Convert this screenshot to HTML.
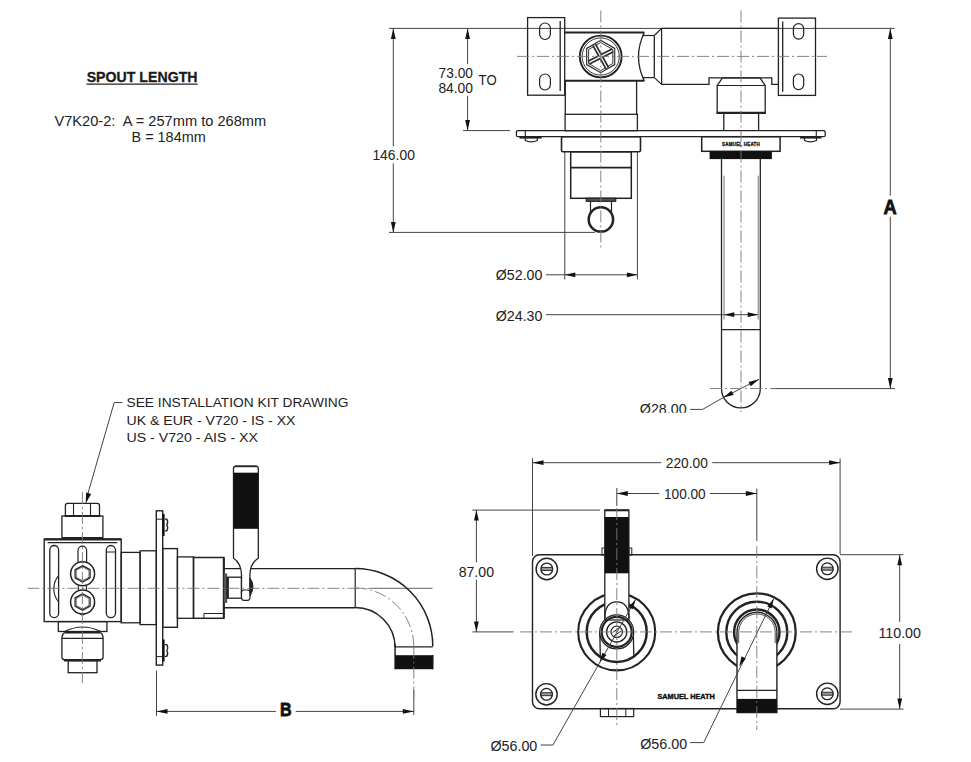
<!DOCTYPE html>
<html><head><meta charset="utf-8"><style>
html,body{margin:0;padding:0;background:#fff;}
svg{display:block;font-family:"Liberation Sans",sans-serif;}
</style></head><body>
<svg width="971" height="762" viewBox="0 0 971 762">
<rect width="971" height="762" fill="#fff"/>
<text x="86.7" y="81.6" font-size="14.4" text-anchor="start" font-weight="bold" textLength="110.8" lengthAdjust="spacingAndGlyphs" fill="#1a1a1a" stroke="#1a1a1a" stroke-width="0.3">SPOUT LENGTH</text>
<line x1="86.5" y1="84.2" x2="197.7" y2="84.2" stroke="#222" stroke-width="1.2" />
<text x="54.4" y="126.2" font-size="14.6" text-anchor="start" textLength="211.8" lengthAdjust="spacingAndGlyphs" fill="#222" >V7K20-2:&#160; A = 257mm to 268mm</text>
<text x="131.5" y="142.3" font-size="14.6" text-anchor="start" textLength="74.2" lengthAdjust="spacingAndGlyphs" fill="#222" >B = 184mm</text>
<line x1="389" y1="28.4" x2="894.6" y2="28.4" stroke="#444" stroke-width="1" />
<line x1="389" y1="232.4" x2="595" y2="232.4" stroke="#444" stroke-width="1" />
<line x1="772" y1="388.6" x2="894.9" y2="388.6" stroke="#444" stroke-width="1" />
<line x1="393.3" y1="28.4" x2="393.3" y2="146.4" stroke="#444" stroke-width="1" />
<line x1="393.3" y1="163.3" x2="393.3" y2="232.4" stroke="#444" stroke-width="1" />
<path d="M393.3,28.4 L395.7,38.9 L390.9,38.9 Z" fill="#111"/>
<path d="M393.3,232.4 L390.9,221.9 L395.7,221.9 Z" fill="#111"/>
<text x="372.4" y="160.3" font-size="15.2" text-anchor="start" textLength="42.5" lengthAdjust="spacingAndGlyphs" fill="#222" >146.00</text>
<line x1="467.6" y1="28.4" x2="467.6" y2="64" stroke="#444" stroke-width="1" />
<line x1="467.6" y1="95.8" x2="467.6" y2="130.6" stroke="#444" stroke-width="1" />
<path d="M467.6,28.4 L470,38.9 L465.2,38.9 Z" fill="#111"/>
<path d="M467.6,130.6 L465.2,120.1 L470,120.1 Z" fill="#111"/>
<line x1="463" y1="130.6" x2="510" y2="130.6" stroke="#444" stroke-width="1" />
<text x="438.6" y="78.1" font-size="15" text-anchor="start" textLength="34.4" lengthAdjust="spacingAndGlyphs" fill="#222" >73.00</text>
<text x="438.4" y="92.5" font-size="15" text-anchor="start" textLength="34.6" lengthAdjust="spacingAndGlyphs" fill="#222" >84.00</text>
<text x="478.6" y="84.5" font-size="14.5" text-anchor="start" textLength="18" lengthAdjust="spacingAndGlyphs" fill="#222" >TO</text>
<line x1="890.3" y1="28.4" x2="890.3" y2="195.7" stroke="#444" stroke-width="1" />
<line x1="890.3" y1="216.7" x2="890.3" y2="388.6" stroke="#444" stroke-width="1" />
<path d="M890.3,28.6 L892.7,39.1 L887.9,39.1 Z" fill="#111"/>
<path d="M890.3,388.6 L887.9,378.1 L892.7,378.1 Z" fill="#111"/>
<text x="883.5" y="213.6" font-size="20" text-anchor="start" font-weight="bold" textLength="13.2" lengthAdjust="spacingAndGlyphs" fill="#111" stroke="#111" stroke-width="0.8">A</text>
<line x1="564.8" y1="151.8" x2="564.8" y2="279.4" stroke="#444" stroke-width="1" />
<line x1="637.4" y1="151.8" x2="637.4" y2="279.4" stroke="#444" stroke-width="1" />
<line x1="546" y1="274.8" x2="637.4" y2="274.8" stroke="#444" stroke-width="1" />
<path d="M564.8,274.8 L575.3,272.4 L575.3,277.2 Z" fill="#111"/>
<path d="M637.4,274.8 L626.9,277.2 L626.9,272.4 Z" fill="#111"/>
<text x="495.8" y="280.2" font-size="14.2" text-anchor="start" textLength="46.6" lengthAdjust="spacingAndGlyphs" fill="#222" >&#216;52.00</text>
<line x1="546" y1="314.7" x2="758.2" y2="314.7" stroke="#444" stroke-width="1" />
<path d="M723.8,314.7 L734.3,312.3 L734.3,317.1 Z" fill="#111"/>
<path d="M758.2,314.7 L747.7,317.1 L747.7,312.3 Z" fill="#111"/>
<text x="495.8" y="320.6" font-size="14.2" text-anchor="start" textLength="46.6" lengthAdjust="spacingAndGlyphs" fill="#222" >&#216;24.30</text>
<line x1="759" y1="379.3" x2="723.2" y2="397.6" stroke="#444" stroke-width="1" />
<line x1="723.2" y1="397.6" x2="702.6" y2="409.4" stroke="#444" stroke-width="1" />
<line x1="702.6" y1="409.4" x2="690.2" y2="409.4" stroke="#444" stroke-width="1" />
<path d="M759,379.3 L750.74,386.22 L748.56,381.94 Z" fill="#111"/>
<path d="M723.2,397.6 L731.46,390.68 L733.64,394.96 Z" fill="#111"/>
<clipPath id="cp28"><rect x="600" y="380" width="120" height="32.7"/></clipPath>
<text x="639.8" y="414.2" font-size="14.6" text-anchor="start" textLength="46.8" lengthAdjust="spacingAndGlyphs" fill="#222" clip-path="url(#cp28)">&#216;28.00</text>
<rect x="527.6" y="17.6" width="37.1" height="77.6" rx="0" stroke="#222" stroke-width="1.3" fill="none"/>
<line x1="560.2" y1="21" x2="560.2" y2="91" stroke="#222" stroke-width="1.3" />
<rect x="539.6" y="23" width="10.8" height="16.5" rx="5.4" stroke="#222" stroke-width="1.2" fill="none"/>
<rect x="539.6" y="74" width="10.8" height="16" rx="5.4" stroke="#222" stroke-width="1.2" fill="none"/>
<line x1="564.7" y1="32.5" x2="644.3" y2="32.5" stroke="#222" stroke-width="2" />
<line x1="564.7" y1="80.8" x2="644.3" y2="80.8" stroke="#222" stroke-width="2" />
<path d="M644.3,32.5 Q632.7,56.6 644.3,80.8" stroke="#222" stroke-width="1.3" fill="none" />
<line x1="642.3" y1="35.5" x2="654.3" y2="35.5" stroke="#222" stroke-width="1.2" />
<line x1="642.3" y1="77.6" x2="654.3" y2="77.6" stroke="#222" stroke-width="1.2" />
<line x1="654.3" y1="35.5" x2="654.3" y2="77.6" stroke="#222" stroke-width="1.3" />
<path d="M654.3,35.5 L661.6,28.4" stroke="#222" stroke-width="1.2" fill="none"/>
<path d="M654.3,77.6 L661.6,84.4" stroke="#222" stroke-width="1.2" fill="none"/>
<line x1="661.6" y1="28.4" x2="661.6" y2="84.4" stroke="#222" stroke-width="1.2" />
<circle cx="600.7" cy="56.5" r="20.9" stroke="#222" stroke-width="1.9" fill="none"/>
<circle cx="600.7" cy="56.5" r="18.6" stroke="#222" stroke-width="0.9" fill="none"/>
<path d="M600.7,40.3 L614.73,48.4 L614.73,64.6 L600.7,72.7 L586.67,64.6 L586.67,48.4 Z" stroke="#222" stroke-width="1.1" fill="none"/>
<path d="M600.7,42.5 L612.82,49.5 L612.82,63.5 L600.7,70.5 L588.58,63.5 L588.58,49.5 Z" stroke="#222" stroke-width="0.9" fill="none"/>
<line x1="588.76" y1="62.58" x2="612.64" y2="50.42" stroke="#2a2a2a" stroke-width="4.6" />
<line x1="594.2" y1="44.78" x2="607.2" y2="68.22" stroke="#2a2a2a" stroke-width="4.6" />
<line x1="589.21" y1="62.36" x2="612.19" y2="50.64" stroke="#fff" stroke-width="1.3" />
<line x1="594.45" y1="45.22" x2="606.95" y2="67.78" stroke="#fff" stroke-width="1.3" />
<line x1="661.6" y1="28.4" x2="778.4" y2="28.4" stroke="#222" stroke-width="1.3" />
<path d="M661.6,84.4 L709,84.4 L709,77.9 L771.8,77.9 L771.8,84.4 L778.4,84.4" stroke="#222" stroke-width="1.3" fill="none"/>
<rect x="778.4" y="18.1" width="37.1" height="77.3" rx="0" stroke="#222" stroke-width="1.3" fill="none"/>
<line x1="782.7" y1="21.6" x2="782.7" y2="91.7" stroke="#222" stroke-width="1.3" />
<rect x="793.4" y="23.7" width="10.3" height="15.4" rx="5.1" stroke="#222" stroke-width="1.2" fill="none"/>
<rect x="793.4" y="74" width="10.3" height="15.6" rx="5.1" stroke="#222" stroke-width="1.2" fill="none"/>
<line x1="565.3" y1="80.8" x2="565.3" y2="114.3" stroke="#222" stroke-width="1.3" />
<line x1="636.6" y1="80.8" x2="636.6" y2="114.3" stroke="#222" stroke-width="1.3" />
<rect x="565.1" y="114.3" width="72.3" height="16.4" rx="0" stroke="#222" stroke-width="1.3" fill="none"/>
<rect x="516.4" y="130.6" width="308.8" height="6.1" rx="1.5" stroke="#222" stroke-width="1.3" fill="none"/>
<line x1="525.3" y1="130.6" x2="525.3" y2="136.7" stroke="#222" stroke-width="1.1" />
<line x1="816.3" y1="130.6" x2="816.3" y2="136.7" stroke="#222" stroke-width="1.1" />
<line x1="519.5" y1="137.6" x2="541.6" y2="137.6" stroke="#222" stroke-width="2" />
<path d="M525.3,138 L525.3,140.5 Q531.3,143.2 537.3,140.5 L537.3,138" stroke="#222" stroke-width="1.2" fill="none" />
<line x1="800" y1="137.6" x2="821.4" y2="137.6" stroke="#222" stroke-width="2" />
<path d="M804.5,138 L804.5,140.5 Q810.5,143.2 816.5,140.5 L816.5,138" stroke="#222" stroke-width="1.2" fill="none" />
<rect x="561.5" y="136.7" width="79" height="15.1" rx="1.5" stroke="#222" stroke-width="1.6" fill="none"/>
<rect x="570.7" y="151.8" width="60.6" height="46.5" rx="0" stroke="#222" stroke-width="1.5" fill="none"/>
<line x1="570.7" y1="167.6" x2="631.3" y2="167.6" stroke="#222" stroke-width="1.8" />
<rect x="586.3" y="198.3" width="29.4" height="3" rx="0" stroke="#222" stroke-width="1.2" fill="#555"/>
<line x1="590.5" y1="201" x2="590.5" y2="212" stroke="#222" stroke-width="1.2" />
<line x1="611.5" y1="201" x2="611.5" y2="212" stroke="#222" stroke-width="1.2" />
<circle cx="600.9" cy="219.4" r="12.2" stroke="#222" stroke-width="2.5" fill="#fff"/>
<path d="M717.2,112.9 L717.2,85.5 L722.5,77.9 L760,77.9 L765.2,85.5 L765.2,112.9" stroke="#222" stroke-width="1.3" fill="none"/>
<line x1="717.2" y1="85.5" x2="765.2" y2="85.5" stroke="#222" stroke-width="1.2" />
<line x1="716.5" y1="112.9" x2="765.9" y2="112.9" stroke="#222" stroke-width="2.4" />
<line x1="723.8" y1="112.9" x2="723.8" y2="130.6" stroke="#222" stroke-width="1.3" />
<line x1="758.6" y1="112.9" x2="758.6" y2="130.6" stroke="#222" stroke-width="1.3" />
<rect x="701.7" y="136.7" width="78.4" height="14.6" rx="0" stroke="#222" stroke-width="1.5" fill="none"/>
<text x="741" y="146.3" font-size="6" text-anchor="middle" font-weight="bold" textLength="38" lengthAdjust="spacingAndGlyphs" fill="#111" stroke="#111" stroke-width="0.35" letter-spacing="0.3">SAMUEL HEATH</text>
<rect x="709.6" y="151.3" width="62.3" height="7.8" rx="0" stroke="#222" stroke-width="0" fill="#111"/>
<line x1="721.5" y1="159.1" x2="721.5" y2="388.5" stroke="#222" stroke-width="1.3" />
<line x1="760.3" y1="159.1" x2="760.3" y2="388.5" stroke="#222" stroke-width="1.3" />
<path d="M721.5,388.5 A19.4,19.4 0 0 0 760.3,388.5" stroke="#222" stroke-width="1.3" fill="none" />
<line x1="724" y1="175.7" x2="724" y2="319.5" stroke="#777" stroke-width="1" />
<line x1="758.2" y1="175.7" x2="758.2" y2="319.5" stroke="#777" stroke-width="1" />
<line x1="721.5" y1="329.6" x2="760.3" y2="329.6" stroke="#222" stroke-width="1.3" />
<line x1="122.4" y1="402.5" x2="114.2" y2="402.5" stroke="#444" stroke-width="1" />
<line x1="114.2" y1="402.5" x2="87.5" y2="495" stroke="#444" stroke-width="1" />
<path d="M85.7,503.4 L86.12,492.59 L91.12,494.04 Z" fill="#111"/>
<text x="126.5" y="407.2" font-size="13.6" text-anchor="start" textLength="222" lengthAdjust="spacingAndGlyphs" fill="#222" >SEE INSTALLATION KIT DRAWING</text>
<text x="126.5" y="424.8" font-size="13.6" text-anchor="start" textLength="169" lengthAdjust="spacingAndGlyphs" fill="#222" >UK &amp; EUR - V720 - IS - XX</text>
<text x="126.5" y="442.3" font-size="13.6" text-anchor="start" textLength="131.5" lengthAdjust="spacingAndGlyphs" fill="#222" >US - V720 - AIS - XX</text>
<line x1="372" y1="588.3" x2="432.6" y2="588.3" stroke="#666" stroke-width="1" />
<path d="M65.4,515.3 L65.4,505.5 Q65.4,503.3 67.6,503.3 L97.3,503.3 Q99.5,503.3 99.5,505.5 L99.5,515.3" stroke="#222" stroke-width="1.3" fill="none" />
<line x1="73.5" y1="503.3" x2="73.5" y2="515.3" stroke="#222" stroke-width="1.1" />
<line x1="90.5" y1="503.3" x2="90.5" y2="515.3" stroke="#222" stroke-width="1.1" />
<line x1="64.5" y1="516" x2="100.5" y2="516" stroke="#222" stroke-width="2.2" />
<rect x="61.9" y="516" width="41" height="21.9" rx="0" stroke="#222" stroke-width="1.3" fill="none"/>
<line x1="61.9" y1="537.9" x2="102.9" y2="537.9" stroke="#222" stroke-width="2" />
<rect x="44.2" y="539.2" width="77" height="82.4" rx="0" stroke="#222" stroke-width="1.4" fill="none"/>
<line x1="44.2" y1="539.4" x2="121.2" y2="539.4" stroke="#222" stroke-width="2.4" />
<line x1="47.6" y1="542.6" x2="117.4" y2="542.6" stroke="#222" stroke-width="1.1" />
<rect x="49.8" y="545.5" width="8.8" height="72.2" rx="4.4" stroke="#222" stroke-width="1.3" fill="none"/>
<rect x="106.3" y="545.5" width="9.2" height="72.2" rx="4.6" stroke="#222" stroke-width="1.3" fill="none"/>
<line x1="106.8" y1="552" x2="115" y2="552" stroke="#222" stroke-width="1" />
<path d="M58.6,575.7 A20.4,20.4 0 0 0 58.6,602" stroke="#222" stroke-width="1.1" fill="none" />
<path d="M78,575 L78,550.5 A4.3,4.3 0 0 1 86.6,550.5 L86.6,575" stroke="#222" stroke-width="1.2" fill="none" />
<rect x="78.4" y="585" width="8" height="5.5" rx="0" stroke="#222" stroke-width="1.1" fill="#fff"/>
<path d="M78,610 Q82.4,620 86.8,610" stroke="#222" stroke-width="1.1" fill="none" />
<circle cx="82.6" cy="573.8" r="12" stroke="#222" stroke-width="1.5" fill="#fff"/>
<circle cx="82.6" cy="602" r="12" stroke="#222" stroke-width="1.5" fill="#fff"/>
<path d="M82.6,565.6 L90.13,569.7 L90.13,577.9 L82.6,582 L75.07,577.9 L75.07,569.7 Z" stroke="#222" stroke-width="1.2" fill="none"/>
<path d="M82.6,566.8 L89.01,570.3 L89.01,577.3 L82.6,580.8 L76.19,577.3 L76.19,570.3 Z" stroke="#222" stroke-width="0.7" fill="none"/>
<path d="M82.6,593.8 L90.13,597.9 L90.13,606.1 L82.6,610.2 L75.07,606.1 L75.07,597.9 Z" stroke="#222" stroke-width="1.2" fill="none"/>
<path d="M82.6,595 L89.01,598.5 L89.01,605.5 L82.6,609 L76.19,605.5 L76.19,598.5 Z" stroke="#222" stroke-width="0.7" fill="none"/>
<rect x="58.3" y="621.6" width="48.6" height="9.9" rx="0" stroke="#222" stroke-width="1.3" fill="none"/>
<path d="M64.7,631.5 Q82.6,622.5 100.5,631.5" stroke="#222" stroke-width="1.2" fill="none" />
<path d="M64.7,632.6 Q62,634 61.9,638.4 L61.9,657 Q61.9,659.6 64.5,659.6 L100.5,659.6 Q103.1,659.6 103.1,657 L103.1,638.4 Q103,634 100.5,632.6" stroke="#222" stroke-width="1.3" fill="none" />
<line x1="64.7" y1="632.6" x2="100.5" y2="632.6" stroke="#222" stroke-width="1.8" />
<line x1="61.9" y1="638.4" x2="103.1" y2="638.4" stroke="#222" stroke-width="1.3" />
<line x1="63.8" y1="660.4" x2="101" y2="660.4" stroke="#222" stroke-width="2" />
<rect x="68.2" y="660.6" width="28.8" height="12.1" rx="0" stroke="#222" stroke-width="1.3" fill="none"/>
<rect x="121.2" y="552.4" width="18.9" height="70.4" rx="0" stroke="#222" stroke-width="1.3" fill="none"/>
<rect x="140.1" y="550.8" width="16.2" height="73.8" rx="0" stroke="#222" stroke-width="1.3" fill="none"/>
<rect x="156.3" y="510.8" width="6.4" height="154.3" rx="0" stroke="#222" stroke-width="1.4" fill="none"/>
<line x1="156.4" y1="519.2" x2="162.6" y2="519.2" stroke="#222" stroke-width="1" />
<line x1="156.4" y1="656.6" x2="162.6" y2="656.6" stroke="#222" stroke-width="1" />
<rect x="162.6" y="513.9" width="2" height="22.1" rx="0" stroke="#222" stroke-width="0" fill="#111"/>
<path d="M164.6,519.05 L166.8,519.05 Q168.6,521.95 166.8,524.95 Q168.6,527.95 166.8,530.85 L164.6,530.85" stroke="#222" stroke-width="1.3" fill="none" />
<rect x="162.6" y="639.5" width="2" height="22" rx="0" stroke="#222" stroke-width="0" fill="#111"/>
<path d="M164.6,644.6 L166.8,644.6 Q168.6,647.5 166.8,650.5 Q168.6,653.5 166.8,656.4 L164.6,656.4" stroke="#222" stroke-width="1.3" fill="none" />
<rect x="162.7" y="548.6" width="14.7" height="78.7" rx="0" stroke="#222" stroke-width="1.4" fill="none"/>
<rect x="177.4" y="556.9" width="16.1" height="61.4" rx="0" stroke="#222" stroke-width="1.3" fill="none"/>
<rect x="193.5" y="557.5" width="30.3" height="60.8" rx="0" stroke="#222" stroke-width="1.5" fill="none"/>
<path d="M203.9,618.3 L203.9,613.5 L223.8,613.5" stroke="#222" stroke-width="1" fill="none"/>
<line x1="223.8" y1="557.5" x2="223.8" y2="618.3" stroke="#222" stroke-width="2" />
<rect x="223.9" y="573.4" width="3.3" height="29.6" rx="0" stroke="#222" stroke-width="0" fill="#555"/>
<rect x="227.2" y="577.2" width="14.3" height="21" rx="0" stroke="#222" stroke-width="1.3" fill="none"/>
<line x1="227.8" y1="577.2" x2="227.8" y2="598.2" stroke="#222" stroke-width="2.2" />
<line x1="223.8" y1="568.6" x2="355.2" y2="568.6" stroke="#222" stroke-width="1.4" />
<line x1="223.8" y1="607.7" x2="355.2" y2="607.7" stroke="#222" stroke-width="1.4" />
<line x1="355.2" y1="568.6" x2="355.2" y2="607.5" stroke="#222" stroke-width="1.2" />
<path d="M355.2,568.6 A77.6,77.6 0 0 1 432.8,646.2" stroke="#222" stroke-width="1.5" fill="none" />
<path d="M355.2,607.5 A39.9,39.9 0 0 1 395.1,647.4" stroke="#222" stroke-width="1.5" fill="none" />
<line x1="432.8" y1="655" x2="432.8" y2="669.2" stroke="#222" stroke-width="1.5" />
<line x1="395.1" y1="644" x2="395.1" y2="669.2" stroke="#222" stroke-width="1.5" />
<line x1="395.1" y1="646.9" x2="432.8" y2="646.9" stroke="#222" stroke-width="1.3" />
<rect x="395.1" y="655.2" width="37.7" height="14" rx="0" stroke="#222" stroke-width="0" fill="#111"/>
<path d="M355.2,588 A58.6,58.6 0 0 1 413.8,646.6" stroke="#777" stroke-width="0.9" fill="none" stroke-dasharray="12 3 2 3"/>
<line x1="413.8" y1="690" x2="413.8" y2="715" stroke="#444" stroke-width="1" />
<path d="M233.5,468.5 Q233.5,466.2 235.8,466.2 L256,466.2 Q258.3,466.2 258.3,468.5 L258.3,558.2 Q250.2,563 249.9,575 L249.9,593 L241.5,593 L241.5,575 Q241.2,563 233.5,558.2 Z" stroke="#222" stroke-width="1.3" fill="#fff" />
<rect x="233.5" y="472.7" width="24.8" height="56.1" rx="0" stroke="#222" stroke-width="0" fill="#111"/>
<line x1="235" y1="466.4" x2="256.8" y2="466.4" stroke="#222" stroke-width="1.6" />
<rect x="241.5" y="590" width="8.5" height="10.3" rx="2.5" stroke="#222" stroke-width="1.2" fill="#fff"/>
<path d="M250,578 Q256,586 250,596 Z" stroke="#222" stroke-width="1" fill="#222" />
<line x1="156.5" y1="670.6" x2="156.5" y2="716" stroke="#444" stroke-width="1" />
<line x1="156.5" y1="711.4" x2="275.9" y2="711.4" stroke="#444" stroke-width="1" />
<line x1="295.7" y1="711.4" x2="413.8" y2="711.4" stroke="#444" stroke-width="1" />
<path d="M156.5,711.4 L167.5,709 L167.5,713.8 Z" fill="#111"/>
<path d="M413.8,711.4 L402.8,713.8 L402.8,709 Z" fill="#111"/>
<text x="280" y="715.9" font-size="18.6" text-anchor="start" font-weight="bold" textLength="11.6" lengthAdjust="spacingAndGlyphs" fill="#111" stroke="#111" stroke-width="0.8">B</text>
<line x1="472.4" y1="631.9" x2="513.5" y2="631.9" stroke="#444" stroke-width="1" />
<line x1="532.5" y1="458.2" x2="532.5" y2="556" stroke="#444" stroke-width="1" />
<line x1="840.1" y1="458.4" x2="840.1" y2="554" stroke="#444" stroke-width="1" />
<line x1="532.5" y1="462.7" x2="661.2" y2="462.7" stroke="#444" stroke-width="1" />
<line x1="712.2" y1="462.7" x2="840.1" y2="462.7" stroke="#444" stroke-width="1" />
<path d="M532.5,462.7 L543.5,460.3 L543.5,465.1 Z" fill="#111"/>
<path d="M840.1,462.7 L829.1,465.1 L829.1,460.3 Z" fill="#111"/>
<text x="665.8" y="468.2" font-size="14.6" text-anchor="start" textLength="42.1" lengthAdjust="spacingAndGlyphs" fill="#222" >220.00</text>
<line x1="616.8" y1="493.5" x2="659.3" y2="493.5" stroke="#444" stroke-width="1" />
<line x1="709.8" y1="493.5" x2="756.8" y2="493.5" stroke="#444" stroke-width="1" />
<path d="M616.8,493.5 L627.8,491.1 L627.8,495.9 Z" fill="#111"/>
<path d="M756.8,493.5 L745.8,495.9 L745.8,491.1 Z" fill="#111"/>
<line x1="616.8" y1="488" x2="616.8" y2="506" stroke="#444" stroke-width="1" />
<line x1="756.8" y1="488.6" x2="756.8" y2="541" stroke="#444" stroke-width="1" />
<text x="664" y="498.8" font-size="14.6" text-anchor="start" textLength="41.7" lengthAdjust="spacingAndGlyphs" fill="#222" >100.00</text>
<line x1="472.4" y1="510.1" x2="600" y2="510.1" stroke="#444" stroke-width="1" />
<line x1="476.4" y1="510.1" x2="476.4" y2="562.4" stroke="#444" stroke-width="1" />
<line x1="476.4" y1="579.7" x2="476.4" y2="631.9" stroke="#444" stroke-width="1" />
<path d="M476.4,510.1 L478.8,520.6 L474,520.6 Z" fill="#111"/>
<path d="M476.4,631.9 L474,621.4 L478.8,621.4 Z" fill="#111"/>
<text x="458.7" y="576.8" font-size="14.6" text-anchor="start" textLength="35.3" lengthAdjust="spacingAndGlyphs" fill="#222" >87.00</text>
<line x1="840" y1="554.7" x2="903.4" y2="554.7" stroke="#444" stroke-width="1" />
<line x1="840" y1="709.1" x2="903.4" y2="709.1" stroke="#444" stroke-width="1" />
<line x1="899.7" y1="554.7" x2="899.7" y2="622" stroke="#444" stroke-width="1" />
<line x1="899.7" y1="644" x2="899.7" y2="709.1" stroke="#444" stroke-width="1" />
<path d="M899.7,554.7 L902.1,565.2 L897.3,565.2 Z" fill="#111"/>
<path d="M899.7,709.1 L897.3,698.6 L902.1,698.6 Z" fill="#111"/>
<text x="878.4" y="637.5" font-size="14.6" text-anchor="start" textLength="42.6" lengthAdjust="spacingAndGlyphs" fill="#222" >110.00</text>
<rect x="532.5" y="554.8" width="307.6" height="154" rx="7" stroke="#222" stroke-width="1.4" fill="none"/>
<circle cx="546.8" cy="569" r="10.7" stroke="#222" stroke-width="1.4" fill="none"/>
<circle cx="546.8" cy="569" r="5.9" stroke="#222" stroke-width="1.3" fill="none"/>
<rect x="541.3" y="567.4" width="11" height="3" rx="0" stroke="#222" stroke-width="0.9" fill="#999"/>
<circle cx="827.3" cy="568.8" r="10.7" stroke="#222" stroke-width="1.4" fill="none"/>
<circle cx="827.3" cy="568.8" r="5.9" stroke="#222" stroke-width="1.3" fill="none"/>
<rect x="821.8" y="567.2" width="11" height="3" rx="0" stroke="#222" stroke-width="0.9" fill="#999"/>
<circle cx="546.5" cy="694.3" r="10.7" stroke="#222" stroke-width="1.4" fill="none"/>
<circle cx="546.5" cy="694.3" r="5.9" stroke="#222" stroke-width="1.3" fill="none"/>
<rect x="541" y="692.7" width="11" height="3" rx="0" stroke="#222" stroke-width="0.9" fill="#999"/>
<circle cx="827.3" cy="693.8" r="10.7" stroke="#222" stroke-width="1.4" fill="none"/>
<circle cx="827.3" cy="693.8" r="5.9" stroke="#222" stroke-width="1.3" fill="none"/>
<rect x="821.8" y="692.2" width="11" height="3" rx="0" stroke="#222" stroke-width="0.9" fill="#999"/>
<text x="686.1" y="699.3" font-size="7.2" text-anchor="middle" font-weight="bold" textLength="57.3" lengthAdjust="spacingAndGlyphs" fill="#111" stroke="#111" stroke-width="0.4">SAMUEL HEATH</text>
<rect x="600.4" y="708.5" width="33.3" height="8.1" rx="0" stroke="#222" stroke-width="1.2" fill="none"/>
<line x1="608.5" y1="708.5" x2="608.5" y2="716.6" stroke="#222" stroke-width="1" />
<line x1="625.8" y1="708.5" x2="625.8" y2="716.6" stroke="#222" stroke-width="1" />
<circle cx="616.7" cy="631.9" r="38.5" stroke="#222" stroke-width="2.1" fill="none"/>
<circle cx="616.7" cy="631.9" r="30" stroke="#222" stroke-width="2.5" fill="none"/>
<rect x="602" y="548" width="2.8" height="7" rx="0" stroke="#222" stroke-width="1" fill="none"/>
<rect x="628.9" y="548" width="2.9" height="7" rx="0" stroke="#222" stroke-width="1" fill="none"/>
<path d="M604.8,510.1 L628.9,510.1 L628.9,620 L604.8,620 Z" stroke="#222" stroke-width="1.3" fill="#fff" />
<line x1="604.8" y1="510.3" x2="628.9" y2="510.3" stroke="#222" stroke-width="2" />
<rect x="604.8" y="517" width="24.1" height="56.3" rx="0" stroke="#222" stroke-width="0" fill="#111"/>
<path d="M604.8,618.5 Q604.8,601.8 616.7,601.8 Q628.9,601.8 628.9,618.5" stroke="#222" stroke-width="1.3" fill="none" />
<line x1="599.8" y1="631.3" x2="600.3" y2="657" stroke="#222" stroke-width="1.3" />
<line x1="633.3" y1="631" x2="633.8" y2="657" stroke="#222" stroke-width="1.3" />
<circle cx="616.7" cy="631.9" r="17" stroke="#222" stroke-width="1.3" fill="#fff"/>
<circle cx="616.7" cy="631.9" r="15" stroke="#222" stroke-width="2.2" fill="none"/>
<circle cx="616.7" cy="631.9" r="10.1" stroke="#222" stroke-width="1.3" fill="none"/>
<circle cx="616.7" cy="631.9" r="5.7" stroke="#222" stroke-width="1.2" fill="none"/>
<line x1="604.8" y1="620" x2="628.9" y2="620" stroke="#222" stroke-width="1.2" />
<line x1="612.5" y1="632.5" x2="619.5" y2="627.5" stroke="#222" stroke-width="1" />
<line x1="614" y1="636" x2="621" y2="631" stroke="#222" stroke-width="1" />
<line x1="635.6" y1="599.4" x2="552.9" y2="745" stroke="#444" stroke-width="1" />
<line x1="552.9" y1="745" x2="540.6" y2="745" stroke="#444" stroke-width="1" />
<path d="M635.6,599.4 L632.75,609.28 L628.57,606.91 Z" fill="#111"/>
<path d="M599.5,662.6 L602.35,652.72 L606.53,655.09 Z" fill="#111"/>
<text x="490.4" y="750.7" font-size="14.6" text-anchor="start" textLength="46.9" lengthAdjust="spacingAndGlyphs" fill="#222" >&#216;56.00</text>
<circle cx="756.8" cy="632.2" r="38.9" stroke="#222" stroke-width="2.3" fill="none"/>
<circle cx="756.8" cy="632.2" r="30.5" stroke="#222" stroke-width="2.4" fill="none"/>
<circle cx="756.8" cy="632.2" r="22.7" stroke="#222" stroke-width="2.5" fill="none"/>
<path d="M737,712.6 L737,632.2 A19.95,19.95 0 0 1 776.9,632.2 L776.9,712.6 Z" stroke="#222" stroke-width="1.4" fill="#fff" />
<path d="M738.7,643 L738.7,632.2 A18.25,18.25 0 0 1 775.2,632.2 L775.2,643" stroke="#222" stroke-width="0.8" fill="none" />
<line x1="737" y1="690.4" x2="776.9" y2="690.4" stroke="#222" stroke-width="1.3" />
<rect x="737" y="698.9" width="39.9" height="13.7" rx="0" stroke="#222" stroke-width="0" fill="#111"/>
<line x1="773.8" y1="598.5" x2="703.7" y2="742.6" stroke="#444" stroke-width="1" />
<line x1="703.7" y1="742.6" x2="690" y2="742.6" stroke="#444" stroke-width="1" />
<path d="M773.8,598.5 L771.59,608.54 L767.27,606.44 Z" fill="#111"/>
<path d="M739.3,666.4 L741.51,656.36 L745.83,658.46 Z" fill="#111"/>
<text x="640.2" y="749.2" font-size="14.6" text-anchor="start" textLength="46.9" lengthAdjust="spacingAndGlyphs" fill="#222" >&#216;56.00</text>
<line x1="600.8" y1="10.5" x2="600.8" y2="250" stroke="#777" stroke-width="0.9" stroke-dasharray="12 3 2 3" stroke-dashoffset="0"/>
<line x1="741" y1="10.5" x2="741" y2="412" stroke="#777" stroke-width="0.9" stroke-dasharray="12 3 2 3" stroke-dashoffset="0"/>
<line x1="517" y1="56.4" x2="827" y2="56.4" stroke="#777" stroke-width="0.9" stroke-dasharray="12 3 2 3" stroke-dashoffset="0"/>
<line x1="710" y1="388.5" x2="776" y2="388.5" stroke="#777" stroke-width="0.9" stroke-dasharray="12 3 2 3" stroke-dashoffset="0"/>
<line x1="27.4" y1="588.3" x2="372" y2="588.3" stroke="#777" stroke-width="0.9" stroke-dasharray="12 3 2 3" stroke-dashoffset="0"/>
<line x1="82.4" y1="492" x2="82.4" y2="683" stroke="#777" stroke-width="0.9" stroke-dasharray="12 3 2 3" stroke-dashoffset="0"/>
<line x1="413.8" y1="646.6" x2="413.8" y2="700" stroke="#777" stroke-width="0.9" stroke-dasharray="12 3 2 3" stroke-dashoffset="0"/>
<line x1="520" y1="631.9" x2="854" y2="631.9" stroke="#777" stroke-width="0.9" stroke-dasharray="12 3 2 3" stroke-dashoffset="0"/>
<line x1="616.8" y1="508" x2="616.8" y2="728" stroke="#777" stroke-width="0.9" stroke-dasharray="12 3 2 3" stroke-dashoffset="0"/>
<line x1="756.8" y1="546" x2="756.8" y2="730" stroke="#777" stroke-width="0.9" stroke-dasharray="12 3 2 3" stroke-dashoffset="0"/>
</svg></body></html>
